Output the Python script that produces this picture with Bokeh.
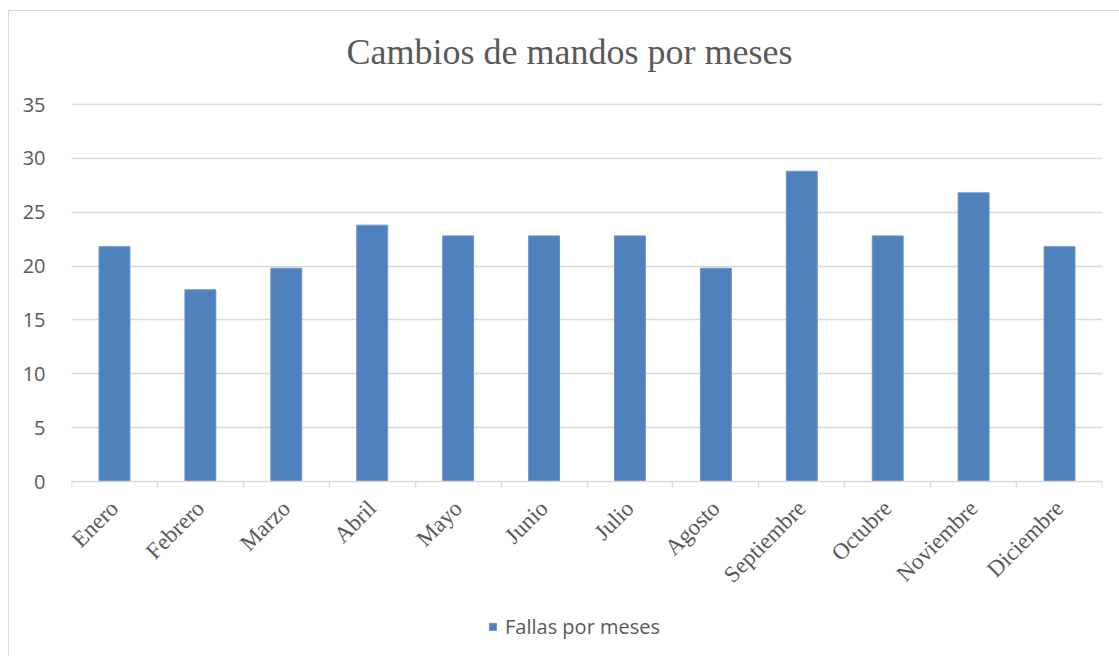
import numpy as np
from bokeh.plotting import figure
from bokeh.models import FixedTicker, Legend, LegendItem, Range1d, Label
from bokeh.embed import file_html
from bokeh.resources import INLINE

months = ["Enero", "Febrero", "Marzo", "Abril", "Mayo", "Junio", "Julio",
          "Agosto", "Septiembre", "Octubre", "Noviembre", "Diciembre"]
fallas = [21.8, 17.8, 19.8, 23.8, 22.8, 22.8, 22.8, 19.8, 28.8, 22.8, 26.8, 21.8]
y_ticks = [0, 5, 10, 15, 20, 25, 30, 35]
series_name = "Fallas por meses"
title_text = "Cambios de mandos por meses"

BLUE = "#4f81bd"
GRAY = "#595959"
LINE = "#d9d9d9"

n = len(months)
centers = [i + 0.5 for i in range(n)]
bounds = list(range(n + 1))

# layout (pixels): value axis spans 377 px for 0..35; frame extends above/below
FRAME_H = 645
PX_TOP_TO_35 = 93      # frame top to the 35 line
PX_0_TO_BOTTOM = 175   # 0 line to frame bottom
ymax = max(y_ticks)
ppu = (FRAME_H - PX_TOP_TO_35 - PX_0_TO_BOTTOM) / ymax
y_lo = -PX_0_TO_BOTTOM / ppu
y_hi = ymax + PX_TOP_TO_35 / ppu

p = figure(frame_width=1031, frame_height=FRAME_H, title=None,
           output_backend="svg", toolbar_location=None,
           x_range=Range1d(0, n), y_range=Range1d(y_lo, y_hi),
           min_border_left=62, min_border_right=17, min_border_top=0,
           min_border_bottom=0)
p.styles = {"margin-left": "8px", "margin-top": "10px",
            "border-left": "1px solid #d9d9d9", "border-top": "1px solid #d9d9d9"}
p.outline_line_color = None
p.background_fill_color = "white"
p.border_fill_color = "white"

r = p.vbar(x=centers, top=fallas, width=0.36, fill_color=BLUE,
           line_color="#6b95c9", line_width=1)

title = Label(text=title_text, x=498, y=FRAME_H - 40, x_units="screen", y_units="screen",
              text_align="center", text_baseline="alphabetic",
              text_font="Liberation Serif", text_font_size="36px", text_color=GRAY)
p.add_layout(title)

# x axis (at value 0)
xa = p.xaxis[0]
xa.fixed_location = 0
xa.ticker = FixedTicker(ticks=centers, minor_ticks=bounds)
xa.major_label_overrides = {c: m for c, m in zip(centers, months)}
xa.major_label_orientation = np.pi / 4
xa.major_label_text_font = "Liberation Serif"
xa.major_label_text_font_size = "23px"
xa.major_label_text_color = GRAY
xa.major_label_standoff = 17
xa.major_tick_out = 0
xa.major_tick_in = 0
xa.minor_tick_out = 6
xa.minor_tick_in = 0
xa.minor_tick_line_color = LINE
xa.minor_tick_line_width = 1.5
xa.axis_line_color = LINE
xa.axis_line_width = 1.5

# y axis
ya = p.yaxis[0]
ya.ticker = FixedTicker(ticks=y_ticks)
ya.axis_line_color = None
ya.major_tick_line_color = None
ya.minor_tick_line_color = None
ya.major_label_text_font = "Open Sans"
ya.major_label_text_font_size = "20px"
ya.major_label_text_color = GRAY
ya.major_label_standoff = 20

p.xgrid.grid_line_color = None
p.ygrid.grid_line_color = LINE
p.ygrid.grid_line_width = 1.5
p.ygrid.ticker = FixedTicker(ticks=y_ticks[1:])

legend = Legend(items=[LegendItem(label=series_name, renderers=[r])],
                location=(417, 16), orientation="horizontal",
                label_text_font="Open Sans", label_text_font_size="20px",
                label_text_color=GRAY, glyph_width=9, glyph_height=9,
                border_line_color=None, background_fill_alpha=0,
                label_standoff=8, padding=0, margin=0)
p.add_layout(legend, "center")

open("out.html", "w").write(file_html(p, INLINE))
